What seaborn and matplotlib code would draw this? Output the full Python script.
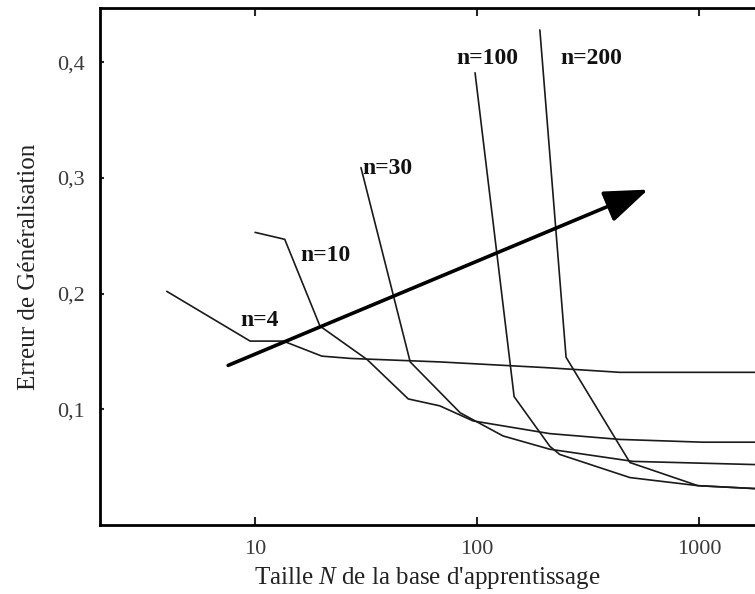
import numpy as np
import pandas as pd
import matplotlib
matplotlib.use("Agg")
import matplotlib.pyplot as plt
import seaborn as sns

# ---- data (N = training set size, err = generalisation error)
n4_N   = [4, 9.5, 13.4, 20, 27, 68, 207, 440, 2000]
n4_err = [0.202, 0.159, 0.159, 0.146, 0.144, 0.141, 0.136, 0.132, 0.132]

n10_N   = [10, 13.6, 19.6, 32, 49, 68, 96, 213, 440, 1040, 2000]
n10_err = [0.253, 0.247, 0.172, 0.143, 0.109, 0.103, 0.090, 0.079, 0.074, 0.0716, 0.0716]

n30_N   = [30, 50, 84, 131, 213, 505, 2000]
n30_err = [0.309, 0.141, 0.097, 0.077, 0.0655, 0.055, 0.052]

n100_N   = [98, 147, 213, 236, 489, 990, 2000]
n100_err = [0.391, 0.111, 0.068, 0.061, 0.041, 0.034, 0.031]

n200_N   = [192, 252, 489, 990, 2000]
n200_err = [0.428, 0.145, 0.054, 0.034, 0.031]

series_names = ["n=4", "n=10", "n=30", "n=100", "n=200"]
label_N   = [8.6, 16.0, 30.3, 81, 237]
label_err = [0.177, 0.233, 0.308, 0.403, 0.403]

arrow_start = (7.56, 0.138)
arrow_end   = (590, 0.290)

xticks = [10, 100, 1000]
xticklabels = ["10", "100", "1000"]
yticks = [0.1, 0.2, 0.3, 0.4]
yticklabels = ["0,1", "0,2", "0,3", "0,4"]

# ---- long-form table
frames = []
for name, N, e in zip(series_names,
                      [n4_N, n10_N, n30_N, n100_N, n200_N],
                      [n4_err, n10_err, n30_err, n100_err, n200_err]):
    frames.append(pd.DataFrame({"N": N, "err": e, "n": name}))
df = pd.concat(frames, ignore_index=True)

sns.set_style("ticks")
plt.rcParams["font.family"] = ["Liberation Serif", "DejaVu Serif"]
plt.rcParams["mathtext.fontset"] = "custom"
plt.rcParams["mathtext.rm"] = "Liberation Serif"
plt.rcParams["mathtext.it"] = "Liberation Serif:italic"

fig = plt.figure(figsize=(7.55, 5.94), dpi=100)
ax = fig.add_axes([100 / 755, 69 / 594, 655 / 755, 517 / 594])

sns.lineplot(data=df, x="N", y="err", hue="n", units="n", estimator=None, sort=False,
             palette=["#1a1a1a"] * 5, linewidth=1.2, legend=False, ax=ax)

ax.set_xscale("log")
ax.set_xlim(2.0, 1790)
ax.set_ylim(0, 0.447)

ax.set_xticks(xticks)
ax.set_xticklabels(xticklabels)
ax.set_yticks(yticks)
ax.set_yticklabels(yticklabels)
ax.xaxis.set_minor_locator(matplotlib.ticker.NullLocator())

ax.tick_params(axis="x", which="major", direction="in", top=True, length=6, width=1.5,
               labelsize=16, pad=11, labelcolor="#3a3a3a")
ax.tick_params(axis="y", which="major", direction="in", length=3, width=1.5,
               labelsize=16, pad=11, labelcolor="#3a3a3a")

for side in ["left", "bottom", "top"]:
    ax.spines[side].set_linewidth(2)
    ax.spines[side].set_color("black")
ax.spines["right"].set_visible(False)

for name, x, y in zip(series_names, label_N, label_err):
    ax.text(x, y, name, fontsize=17, fontweight="bold", ha="left", va="center", color="#111111")

ax.annotate("", xy=arrow_end, xytext=arrow_start,
            arrowprops=dict(arrowstyle="-|>,head_length=1.35,head_width=0.5",
                            lw=2.6, color="black", mutation_scale=20,
                            shrinkA=0, shrinkB=0))

ax.set_xlabel("Taille $\\mathit{N}$ de la base d'apprentissage", fontsize=18, color="#222222", labelpad=4)
ax.set_ylabel("Erreur de Généralisation", fontsize=18, color="#222222", labelpad=12)

fig.savefig("out.png", dpi=100)
